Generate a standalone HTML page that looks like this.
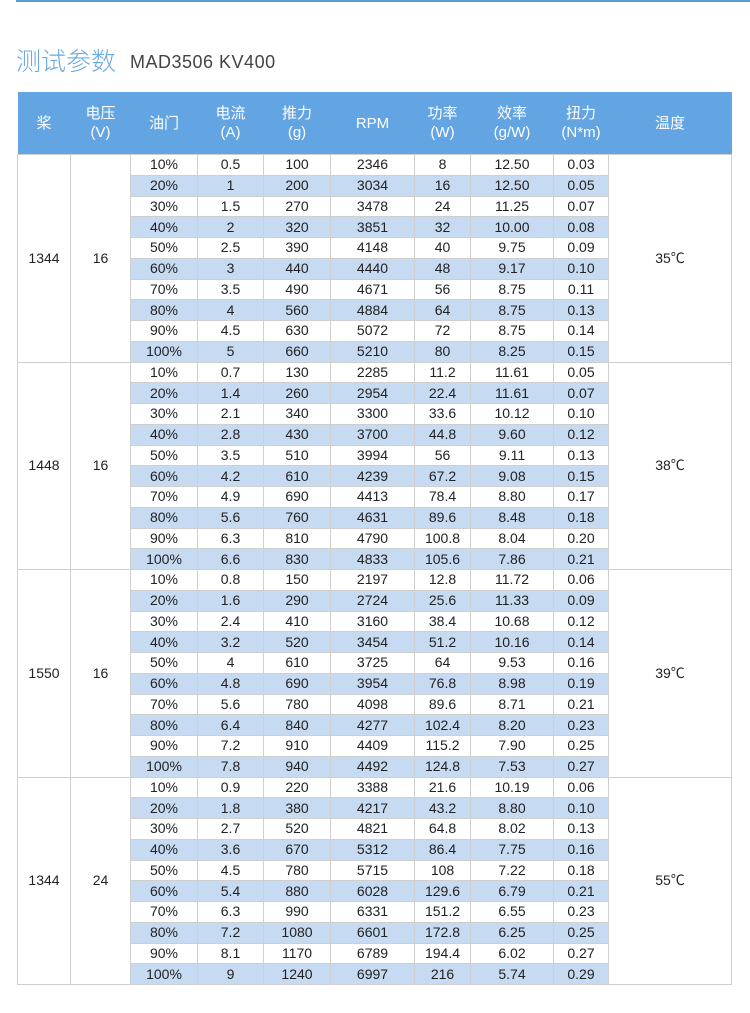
<!DOCTYPE html>
<html><head><meta charset="utf-8"><style>
body{margin:0;width:750px;height:1013px;background:#fff;position:relative;font-family:"Liberation Sans","Noto Sans CJK SC",sans-serif;overflow:hidden}
.topline{position:absolute;left:16px;right:0;top:0;height:2px;background:#5b9bd5}
.title{position:absolute;left:16px;top:42px;font-size:25px;color:#6aa8e0;font-family:"Noto Sans CJK SC",sans-serif;font-weight:300}
.model{position:absolute;left:130px;top:52px;font-size:18px;color:#444;letter-spacing:0.5px}
table{position:absolute;left:17px;top:92px;border-collapse:collapse;table-layout:fixed;width:714px}
td,th{border:1px solid #cfcfcf;text-align:center;padding:0;font-size:14px;color:#222;font-weight:normal}
th{background:#63a4e3;color:#fff;height:62px;border:none;font-size:15px;line-height:19px;font-family:"Liberation Sans","Noto Sans CJK SC",sans-serif}
tr.d td{height:19.75px;line-height:19px}
tr.b td.c{background:#c6daf2}
</style></head><body>
<div class="topline"></div>
<div class="title">测试参数</div>
<div class="model">MAD3506 KV400</div>
<table>
<colgroup><col style="width:53px"><col style="width:60px"><col style="width:67px"><col style="width:66px"><col style="width:67px"><col style="width:84px"><col style="width:56px"><col style="width:83px"><col style="width:55px"><col style="width:123px"></colgroup>
<tr><th>桨</th><th>电压<br>(V)</th><th>油门</th><th>电流<br>(A)</th><th>推力<br>(g)</th><th>RPM</th><th>功率<br>(W)</th><th>效率<br>(g/W)</th><th>扭力<br>(N*m)</th><th>温度</th></tr>
<tbody id="tb"></tbody>
</table>
<script>
var G=[["1344","16","35℃",[["0.5","100","2346","8","12.50","0.03"],["1","200","3034","16","12.50","0.05"],["1.5","270","3478","24","11.25","0.07"],["2","320","3851","32","10.00","0.08"],["2.5","390","4148","40","9.75","0.09"],["3","440","4440","48","9.17","0.10"],["3.5","490","4671","56","8.75","0.11"],["4","560","4884","64","8.75","0.13"],["4.5","630","5072","72","8.75","0.14"],["5","660","5210","80","8.25","0.15"]]],
["1448","16","38℃",[["0.7","130","2285","11.2","11.61","0.05"],["1.4","260","2954","22.4","11.61","0.07"],["2.1","340","3300","33.6","10.12","0.10"],["2.8","430","3700","44.8","9.60","0.12"],["3.5","510","3994","56","9.11","0.13"],["4.2","610","4239","67.2","9.08","0.15"],["4.9","690","4413","78.4","8.80","0.17"],["5.6","760","4631","89.6","8.48","0.18"],["6.3","810","4790","100.8","8.04","0.20"],["6.6","830","4833","105.6","7.86","0.21"]]],
["1550","16","39℃",[["0.8","150","2197","12.8","11.72","0.06"],["1.6","290","2724","25.6","11.33","0.09"],["2.4","410","3160","38.4","10.68","0.12"],["3.2","520","3454","51.2","10.16","0.14"],["4","610","3725","64","9.53","0.16"],["4.8","690","3954","76.8","8.98","0.19"],["5.6","780","4098","89.6","8.71","0.21"],["6.4","840","4277","102.4","8.20","0.23"],["7.2","910","4409","115.2","7.90","0.25"],["7.8","940","4492","124.8","7.53","0.27"]]],
["1344","24","55℃",[["0.9","220","3388","21.6","10.19","0.06"],["1.8","380","4217","43.2","8.80","0.10"],["2.7","520","4821","64.8","8.02","0.13"],["3.6","670","5312","86.4","7.75","0.16"],["4.5","780","5715","108","7.22","0.18"],["5.4","880","6028","129.6","6.79","0.21"],["6.3","990","6331","151.2","6.55","0.23"],["7.2","1080","6601","172.8","6.25","0.25"],["8.1","1170","6789","194.4","6.02","0.27"],["9","1240","6997","216","5.74","0.29"]]]];
var h="";
G.forEach(function(g){g[3].forEach(function(r,i){
h+='<tr class="d'+(i%2?' b':'')+'">';
if(i==0)h+='<td rowspan="10">'+g[0]+'</td><td rowspan="10">'+g[1]+'</td>';
h+='<td class="c">'+((i+1)*10)+'%</td>';
r.forEach(function(v){h+='<td class="c">'+v+'</td>'});
if(i==0)h+='<td rowspan="10">'+g[2]+'</td>';
h+='</tr>';});});
document.getElementById("tb").innerHTML=h;
</script>
</body></html>
